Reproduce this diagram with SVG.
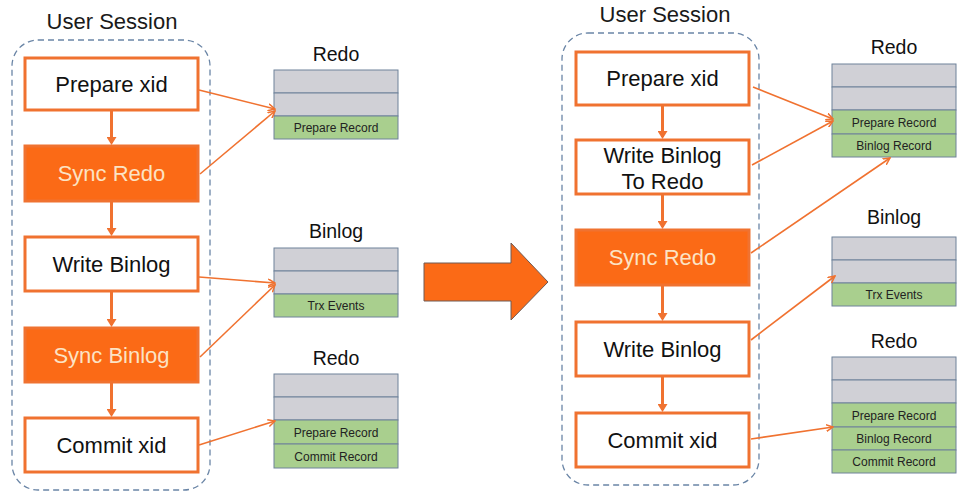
<svg xmlns="http://www.w3.org/2000/svg" width="968" height="500" viewBox="0 0 968 500">
<defs>
<marker id="ah" markerWidth="8" markerHeight="8" refX="7" refY="4" orient="auto" markerUnits="userSpaceOnUse">
<path d="M0,0.5 L7,4 L0,7.5" fill="none" stroke="#F07230" stroke-width="1.5"/>
</marker>
<marker id="fh" markerWidth="10" markerHeight="10" refX="6" refY="5" orient="auto" markerUnits="userSpaceOnUse">
<path d="M0,0 L8,5 L0,10 Z" fill="#F07230"/>
</marker>
</defs>
<style>
text{font-family:"Liberation Sans",Arial,sans-serif}
.title{font-size:22px;fill:#1a1a1a;text-anchor:middle}
.sess{fill:none;stroke:#6A85A6;stroke-width:1.3;stroke-dasharray:6 4}
.box{fill:#ffffff;stroke:#F07230;stroke-width:3}
.fbox{fill:#FB6A16;stroke:#F07230;stroke-width:3}
.bt{font-size:22px;fill:#111;text-anchor:middle}
.ft{font-size:22px;fill:#FCE3C4;text-anchor:middle}
.lbl{font-size:19.5px;fill:#111;text-anchor:middle}
.gray{fill:#D0D0D6;stroke:#6F829A;stroke-width:1}
.green{fill:#A9CF8E;stroke:#6F829A;stroke-width:1}
.rt{font-size:12px;fill:#222;text-anchor:middle}
.flow{stroke:#F07230;stroke-width:3;fill:none}
.conn{stroke:#F07230;stroke-width:1.6;fill:none}
</style>
<rect width="968" height="500" fill="#ffffff"/>

<!-- Left panel -->
<text class="title" x="112" y="29">User Session</text>
<rect class="sess" x="12" y="40" width="198" height="450" rx="26"/>

<g id="l-prepare"><rect class="box" x="25" y="58" width="173" height="52"/><text class="bt" x="111.5" y="92">Prepare xid</text></g>
<g id="l-syncredo"><rect class="fbox" x="25" y="146" width="173" height="55"/><text class="ft" x="111.5" y="181">Sync Redo</text></g>
<g id="l-writebinlog"><rect class="box" x="25" y="237" width="173" height="54"/><text class="bt" x="111.5" y="272">Write Binlog</text></g>
<g id="l-syncbinlog"><rect class="fbox" x="25" y="328" width="173" height="54"/><text class="ft" x="111.5" y="363">Sync Binlog</text></g>
<g id="l-commit"><rect class="box" x="25" y="418" width="173" height="54"/><text class="bt" x="111.5" y="453">Commit xid</text></g>

<g id="l-redo1">
<text class="lbl" x="336" y="61">Redo</text>
<rect class="gray" x="274" y="70" width="124" height="23"/>
<rect class="gray" x="274" y="93" width="124" height="23"/>
<rect class="green" x="274" y="116" width="124" height="23"/>
<text class="rt" x="336" y="132">Prepare Record</text>
</g>
<g id="l-binlog">
<text class="lbl" x="336" y="238">Binlog</text>
<rect class="gray" x="274" y="248" width="124" height="23"/>
<rect class="gray" x="274" y="271" width="124" height="23"/>
<rect class="green" x="274" y="294" width="124" height="23"/>
<text class="rt" x="336" y="310">Trx Events</text>
</g>
<g id="l-redo2">
<text class="lbl" x="336" y="365">Redo</text>
<rect class="gray" x="274" y="374" width="124" height="23"/>
<rect class="gray" x="274" y="397" width="124" height="23"/>
<rect class="green" x="274" y="420" width="124" height="24"/>
<rect class="green" x="274" y="444" width="124" height="24"/>
<text class="rt" x="336" y="436.5">Prepare Record</text>
<text class="rt" x="336" y="460.5">Commit Record</text>
</g>

<!-- Middle arrow -->
<g id="big-arrow">
<path d="M424,263 L511,263 L511,243 L548,282 L511,320 L511,301 L424,301 Z" fill="#FB6A16" stroke="#6E5A55" stroke-width="1"/>
</g>

<!-- Right panel -->
<text class="title" x="665" y="22">User Session</text>
<rect class="sess" x="562" y="33" width="197" height="452" rx="26"/>

<g id="r-prepare"><rect class="box" x="576" y="52" width="173" height="53"/><text class="bt" x="662.5" y="86">Prepare xid</text></g>
<g id="r-writeredo"><rect class="box" x="576" y="140" width="173" height="54"/><text class="bt" x="662.5" y="163">Write Binlog</text><text class="bt" x="662.5" y="189">To Redo</text></g>
<g id="r-syncredo"><rect class="fbox" x="576" y="230" width="173" height="55"/><text class="ft" x="662.5" y="265">Sync Redo</text></g>
<g id="r-writebinlog"><rect class="box" x="576" y="322" width="173" height="54"/><text class="bt" x="662.5" y="357">Write Binlog</text></g>
<g id="r-commit"><rect class="box" x="576" y="413" width="173" height="54"/><text class="bt" x="662.5" y="448">Commit xid</text></g>

<g id="r-redo1">
<text class="lbl" x="894" y="54">Redo</text>
<rect class="gray" x="832" y="64" width="124" height="23"/>
<rect class="gray" x="832" y="87" width="124" height="23"/>
<rect class="green" x="832" y="110" width="124" height="24"/>
<rect class="green" x="832" y="134" width="124" height="23"/>
<text class="rt" x="894" y="126.5">Prepare Record</text>
<text class="rt" x="894" y="150">Binlog Record</text>
</g>
<g id="r-binlog">
<text class="lbl" x="894" y="224">Binlog</text>
<rect class="gray" x="832" y="237" width="124" height="23"/>
<rect class="gray" x="832" y="260" width="124" height="23"/>
<rect class="green" x="832" y="283" width="124" height="23"/>
<text class="rt" x="894" y="299">Trx Events</text>
</g>
<g id="r-redo2">
<text class="lbl" x="894" y="348">Redo</text>
<rect class="gray" x="832" y="357" width="124" height="23"/>
<rect class="gray" x="832" y="380" width="124" height="23"/>
<rect class="green" x="832" y="403" width="124" height="24"/>
<rect class="green" x="832" y="427" width="124" height="23"/>
<rect class="green" x="832" y="450" width="124" height="23"/>
<text class="rt" x="894" y="419.5">Prepare Record</text>
<text class="rt" x="894" y="443">Binlog Record</text>
<text class="rt" x="894" y="466">Commit Record</text>
</g>

<!-- Connectors -->
<g id="connectors">
<line class="flow" x1="111.5" y1="111" x2="111.5" y2="143" marker-end="url(#fh)"/>
<line class="flow" x1="111.5" y1="202" x2="111.5" y2="234" marker-end="url(#fh)"/>
<line class="flow" x1="111.5" y1="292" x2="111.5" y2="325" marker-end="url(#fh)"/>
<line class="flow" x1="111.5" y1="383" x2="111.5" y2="415" marker-end="url(#fh)"/>
<line class="conn" x1="199" y1="90" x2="275" y2="109" marker-end="url(#ah)"/>
<line class="conn" x1="200" y1="174" x2="275" y2="111" marker-end="url(#ah)"/>
<line class="conn" x1="199" y1="277" x2="275" y2="283" marker-end="url(#ah)"/>
<line class="conn" x1="200" y1="357" x2="275" y2="285" marker-end="url(#ah)"/>
<line class="conn" x1="199" y1="445" x2="275" y2="421" marker-end="url(#ah)"/>

<line class="flow" x1="662.5" y1="106" x2="662.5" y2="137" marker-end="url(#fh)"/>
<line class="flow" x1="662.5" y1="195" x2="662.5" y2="227" marker-end="url(#fh)"/>
<line class="flow" x1="662.5" y1="286" x2="662.5" y2="319" marker-end="url(#fh)"/>
<line class="flow" x1="662.5" y1="377" x2="662.5" y2="410" marker-end="url(#fh)"/>
<line class="conn" x1="753" y1="87" x2="833" y2="119" marker-end="url(#ah)"/>
<line class="conn" x1="752" y1="165" x2="833" y2="121" marker-end="url(#ah)"/>
<line class="conn" x1="751" y1="253" x2="890" y2="158" marker-end="url(#ah)"/>
<line class="conn" x1="751" y1="340" x2="835" y2="276" marker-end="url(#ah)"/>
<line class="conn" x1="751" y1="439" x2="833" y2="427" marker-end="url(#ah)"/>
</g>
</svg>
